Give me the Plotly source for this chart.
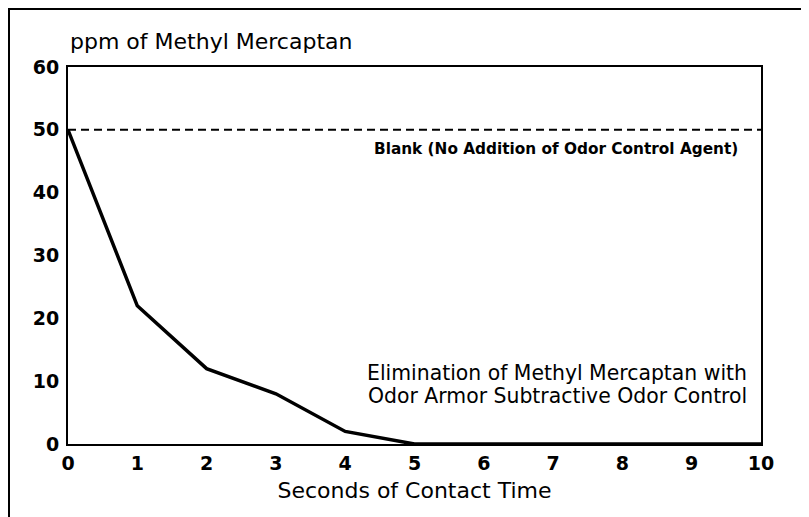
import plotly.graph_objects as go

seconds = [0, 1, 2, 3, 4, 5, 6, 7, 8, 9, 10]
ppm_treated = [50, 22, 12, 8, 2, 0, 0, 0, 0, 0, 0]
blank_x = [0, 10]
blank_ppm = [50, 50]
x_ticks = [0, 1, 2, 3, 4, 5, 6, 7, 8, 9, 10]
y_ticks = [0, 10, 20, 30, 40, 50, 60]

FONT = "DejaVu Sans, Verdana, sans-serif"

# page body has an 8px default margin: size the figure to fit the 809x517 window
W, H = 801, 509
L, R, T, B = 60, 48, 59, 73
PW, PH = W - L - R, H - T - B

def px(fx):  # figure x pixel -> paper fraction
    return (fx - L) / PW

def py(fy):  # figure y pixel (from top) -> paper fraction
    return (H - B - fy) / PH

fig = go.Figure()
fig.add_trace(go.Scatter(x=blank_x, y=blank_ppm, mode="lines",
                         line=dict(color="black", width=2, dash="8px,5px"),
                         showlegend=False, hoverinfo="skip"))
fig.add_trace(go.Scatter(x=seconds, y=ppm_treated, mode="lines",
                         line=dict(color="black", width=3.5),
                         showlegend=False))

fig.update_layout(
    width=W, height=H,
    margin=dict(l=L, r=R, t=T, b=B),
    paper_bgcolor="white", plot_bgcolor="white",
    font=dict(family=FONT, color="black", size=18),
    xaxis=dict(range=[0, 10], tickvals=x_ticks, ticks="outside", ticklen=1,
               tickcolor="rgba(0,0,0,0)", showgrid=False,
               zeroline=False, showline=True, linecolor="black", linewidth=2,
               mirror=True, tickfont=dict(size=19, family="DejaVu Sans", weight="bold"),
               title=dict(text="Seconds of Contact Time", standoff=10,
                          font=dict(size=22, family=FONT))),
    yaxis=dict(range=[0, 60], tickvals=y_ticks, ticks="outside", ticklen=3,
               tickcolor="rgba(0,0,0,0)", showgrid=False,
               zeroline=False, showline=True, linecolor="black", linewidth=2,
               mirror=True, tickfont=dict(size=19, family="DejaVu Sans", weight="bold")),
    shapes=[
        dict(type="line", xref="paper", yref="paper",
             x0=px(0), x1=px(W), y0=py(1), y1=py(1),
             line=dict(color="black", width=2)),
        dict(type="line", xref="paper", yref="paper",
             x0=px(1), x1=px(1), y0=py(0), y1=py(H),
             line=dict(color="black", width=2)),
    ],
    annotations=[
        dict(text="ppm of Methyl Mercaptan", xref="paper", yref="paper",
             x=px(60), y=py(33), xanchor="left", yanchor="middle", showarrow=False,
             font=dict(size=22, family=FONT)),
        dict(text="<b>Blank (No Addition of Odor Control Agent)</b>", xref="x", yref="y",
             x=9.70, y=47.0, xanchor="right", yanchor="middle", showarrow=False,
             font=dict(size=15.3, family=FONT)),
        dict(text="Elimination of Methyl Mercaptan with",
             xref="x", yref="y", x=9.83, y=11.3, xanchor="right", yanchor="middle",
             showarrow=False, font=dict(size=20.4, family=FONT)),
        dict(text="Odor Armor Subtractive Odor Control",
             xref="x", yref="y", x=9.83, y=7.65, xanchor="right", yanchor="middle",
             showarrow=False, font=dict(size=20.4, family=FONT)),
    ],
)

fig.write_html("out.html")
